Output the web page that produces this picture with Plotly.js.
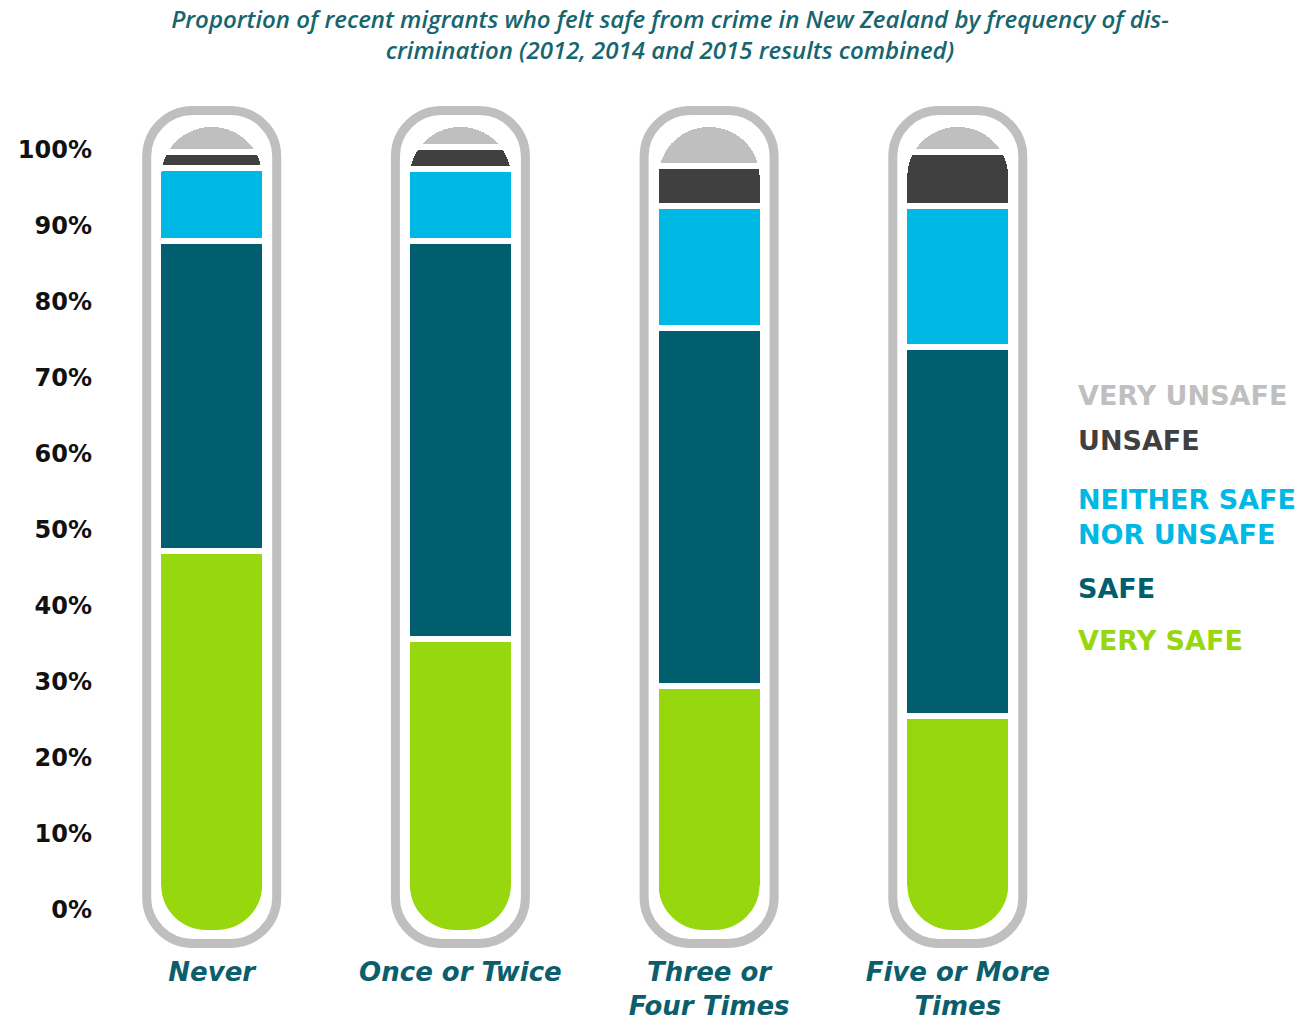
<!DOCTYPE html>
<html><head><meta charset="utf-8">
<script src="https://cdn.plot.ly/plotly-3.0.1.min.js"></script>
<style>html,body{margin:0;padding:0;background:#fff;}#chart{width:1305px;height:1020px;}</style>
</head><body><div id="chart"></div>
<script>
// ---- data ----
const categories = ['Never', 'Once or Twice', 'Three or<br>Four Times', 'Five or More<br>Times'];
const seriesNames = ['VERY SAFE', 'SAFE', 'NEITHER SAFE<br>NOR UNSAFE', 'UNSAFE', 'VERY UNSAFE'];
const verySafe   = [47.2, 36.3, 30.5, 26.8];
const safe       = [38.4, 49.2, 44.3, 45.6];
const neither    = [9.0, 8.9, 15.1, 17.5];
const unsafe     = [2.0, 2.8, 4.9, 6.7];
const veryUnsafe = [3.4, 2.8, 5.2, 3.4];
const yTickValues = [0, 10, 20, 30, 40, 50, 60, 70, 80, 90, 100];
const yTickLabels = ['0%', '10%', '20%', '30%', '40%', '50%', '60%', '70%', '80%', '90%', '100%'];
const titleText = 'Proportion of recent migrants who felt safe from crime in New Zealand by frequency of dis-<br>crimination (2012, 2014 and 2015 results combined)';

// ---- styles ----
const seriesColors = ['#97D70E', '#015E6E', '#00B8E4', '#404040', '#BFBFBF'];
const legendCenters = [640, 588, 517, 441, 395]; // pixel centres of legend labels
const W = 1305, H = 1020;
const M = {l: 96, r: 225, t: 100, b: 65};
const plotH = H - M.t - M.b;
const plotBottom = H - M.b;
const barZeroPx = 933, barPxPerUnit = 8.09;   // scale of the bar stack
const tickZeroPx = 910, tickPxPerUnit = 7.6;  // scale of the printed % labels
const firstCenterPx = 211.7, catSpacingPx = 248.7;
const teal = '#0B5E6B';

const seriesValues = [verySafe, safe, neither, unsafe, veryUnsafe];
const traces = seriesValues.map((vals, s) => ({
  type: 'bar',
  x: categories,
  y: vals,
  name: seriesNames[s],
  marker: {color: seriesColors[s], line: {color: '#ffffff', width: 6}},
  showlegend: false,
  hoverinfo: 'skip'
}));
// axis holder for the printed percentage scale (draws nothing)
traces.push({type: 'scatter', mode: 'markers', x: [categories[0]], y: [null], yaxis: 'y2', showlegend: false, hoverinfo: 'skip'});

const k = 0.5523;
function roundRect(x0, y0, x1, y1, r) {
  return `M ${x0+r},${y0} L ${x1-r},${y0} C ${x1-r+k*r},${y0} ${x1},${y0+r-k*r} ${x1},${y0+r} ` +
         `L ${x1},${y1-r} C ${x1},${y1-r+k*r} ${x1-r+k*r},${y1} ${x1-r},${y1} ` +
         `L ${x0+r},${y1} C ${x0+r-k*r},${y1} ${x0},${y1-r+k*r} ${x0},${y1-r} ` +
         `L ${x0},${y0+r} C ${x0},${y0+r-k*r} ${x0+r-k*r},${y0} ${x0+r},${y0} Z`;
}
const xl = -50.5, xr = 50.5, yb = 3, rr = 45;
const maskLeft = `M ${xl-4},${yb-4} L ${xl-4},${yb+rr} L ${xl},${yb+rr} C ${xl},${yb+rr-k*rr} ${xl+rr-k*rr},${yb} ${xl+rr},${yb} L ${xl+rr},${yb-4} Z`;
const maskRight = `M ${xr+4},${yb-4} L ${xr+4},${yb+rr} L ${xr},${yb+rr} C ${xr},${yb+rr-k*rr} ${xr-rr+k*rr},${yb} ${xr-rr},${yb} L ${xr-rr},${yb-4} Z`;

const shapes = [];
categories.forEach(c => {
  const base = {type: 'path', xref: 'x', yref: 'y', xsizemode: 'pixel', ysizemode: 'pixel', xanchor: c, yanchor: 0};
  shapes.push(Object.assign({}, base, {path: maskLeft, line: {width: 0}, fillcolor: '#ffffff', layer: 'above'}));
  shapes.push(Object.assign({}, base, {path: maskRight, line: {width: 0}, fillcolor: '#ffffff', layer: 'above'}));
  shapes.push(Object.assign({}, base, {path: roundRect(-65, -10.5, 65, 822.5, 46), line: {color: '#BFBFBF', width: 9}, fillcolor: 'rgba(0,0,0,0)', layer: 'above'}));
});

const annotations = seriesNames.map((n, s) => ({
  text: '<b>' + n + '</b>',
  xref: 'paper', yref: 'paper',
  x: (1076 - M.l) / (W - M.l - M.r), xanchor: 'left',
  y: (plotBottom - legendCenters[s]) / plotH, yanchor: 'middle',
  align: 'left', showarrow: false,
  font: {family: 'DejaVu Sans', size: 27, color: seriesColors[s]}
}));

const layout = {
  width: W, height: H,
  margin: M,
  paper_bgcolor: '#ffffff', plot_bgcolor: '#ffffff',
  barmode: 'stack',
  bargap: 1 - 107 / catSpacingPx,
  barcornerradius: 53,
  hovermode: false,
  showlegend: false,
  title: {
    text: titleText,
    x: 670 / W, xanchor: 'center', xref: 'container',
    y: 1 - 27.5 / H, yanchor: 'middle', yref: 'container',
    font: {family: 'Open Sans', size: 24, color: '#17656F', style: 'italic', weight: 600}
  },
  xaxis: {
    type: 'category',
    range: [-(firstCenterPx - M.l) / catSpacingPx, (W - M.r - firstCenterPx) / catSpacingPx],
    showgrid: false, zeroline: false, showline: false,
    ticks: '', ticklabelstandoff: -1,
    tickfont: {family: 'DejaVu Sans', size: 26, color: teal, style: 'italic', weight: 'bold'}
  },
  yaxis: {
    range: [(barZeroPx - plotBottom) / barPxPerUnit, (barZeroPx - M.t) / barPxPerUnit],
    showgrid: false, zeroline: false, showline: false, showticklabels: false, ticks: ''
  },
  yaxis2: {
    overlaying: 'y', side: 'left', anchor: 'x',
    range: [(tickZeroPx - plotBottom) / tickPxPerUnit, (tickZeroPx - M.t) / tickPxPerUnit],
    tickmode: 'array', tickvals: yTickValues, ticktext: yTickLabels,
    ticklabelstandoff: 3,
    showgrid: false, zeroline: false, showline: false, ticks: '',
    tickfont: {family: 'DejaVu Sans', size: 24, color: '#111111', weight: 'bold'}
  },
  shapes: shapes,
  annotations: annotations
};

Plotly.newPlot('chart', traces, layout, {staticPlot: true, displayModeBar: false});
</script>
</body></html>
